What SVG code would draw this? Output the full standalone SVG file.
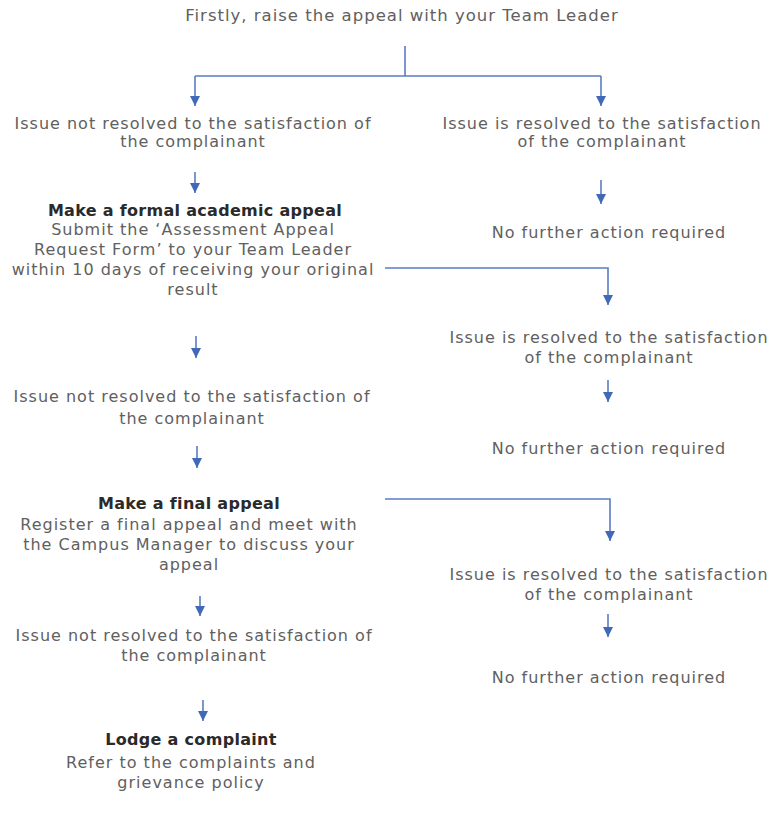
<svg xmlns="http://www.w3.org/2000/svg" width="772" height="816" viewBox="0 0 772 816">
<style>
text{font-family:"DejaVu Sans","Liberation Sans",sans-serif;font-size:16px;letter-spacing:1px;fill:#606060;text-anchor:middle}
.b{font-weight:bold;fill:#2a2a2a;letter-spacing:0.3px}
.t{font-size:16.5px}
.c{fill:none;stroke:#5b7cc4;stroke-width:1.6}
</style>
<defs>
<marker id="ah" viewBox="0 0 10 10" refX="10" refY="5" markerWidth="11" markerHeight="10" markerUnits="userSpaceOnUse" orient="auto">
<path d="M0,0 L10,5 L0,10 z" fill="#4169b8"/>
</marker>
</defs>
<rect width="772" height="816" fill="#ffffff"/>
<g id="connectors">
<path class="c" d="M405,46 V76 M195,76 H601"/>
<path class="c" d="M195,76 V106" marker-end="url(#ah)"/>
<path class="c" d="M601,76 V106" marker-end="url(#ah)"/>
<path class="c" d="M195,172 V193" marker-end="url(#ah)"/>
<path class="c" d="M601,180 V204" marker-end="url(#ah)"/>
<path class="c" d="M385,268 H608 V305" marker-end="url(#ah)"/>
<path class="c" d="M608,380 V402" marker-end="url(#ah)"/>
<path class="c" d="M196,336 V358" marker-end="url(#ah)"/>
<path class="c" d="M197,446 V468" marker-end="url(#ah)"/>
<path class="c" d="M385,499 H610 V541" marker-end="url(#ah)"/>
<path class="c" d="M608,614 V637" marker-end="url(#ah)"/>
<path class="c" d="M200,596 V616" marker-end="url(#ah)"/>
<path class="c" d="M203,700 V721" marker-end="url(#ah)"/>
</g>
<g id="start"><text class="t" x="402" y="21">Firstly, raise the appeal with your Team Leader</text></g>
<g id="not1"><text x="193" y="129">Issue not resolved to the satisfaction of</text><text x="193" y="147">the complainant</text></g>
<g id="res1"><text x="602" y="129">Issue is resolved to the satisfaction</text><text x="602" y="147">of the complainant</text></g>
<g id="nfa1"><text x="609" y="238">No further action required</text></g>
<g id="formal"><text class="b" x="195" y="216">Make a formal academic appeal</text><text x="193" y="235">Submit the ‘Assessment Appeal</text><text x="193" y="255">Request Form’ to your Team Leader</text><text x="193" y="275">within 10 days of receiving your original</text><text x="193" y="295">result</text></g>
<g id="res2"><text x="609" y="343">Issue is resolved to the satisfaction</text><text x="609" y="363">of the complainant</text></g>
<g id="nfa2"><text x="609" y="454">No further action required</text></g>
<g id="not2"><text x="192" y="402">Issue not resolved to the satisfaction of</text><text x="192" y="424">the complainant</text></g>
<g id="final"><text class="b" x="189" y="509">Make a final appeal</text><text x="189" y="530">Register a final appeal and meet with</text><text x="189" y="550">the Campus Manager to discuss your</text><text x="189" y="570">appeal</text></g>
<g id="res3"><text x="609" y="580">Issue is resolved to the satisfaction</text><text x="609" y="600">of the complainant</text></g>
<g id="nfa3"><text x="609" y="683">No further action required</text></g>
<g id="not3"><text x="194" y="641">Issue not resolved to the satisfaction of</text><text x="194" y="661">the complainant</text></g>
<g id="lodge"><text class="b" x="191" y="745">Lodge a complaint</text><text x="191" y="768">Refer to the complaints and</text><text x="191" y="788">grievance policy</text></g>
</svg>
